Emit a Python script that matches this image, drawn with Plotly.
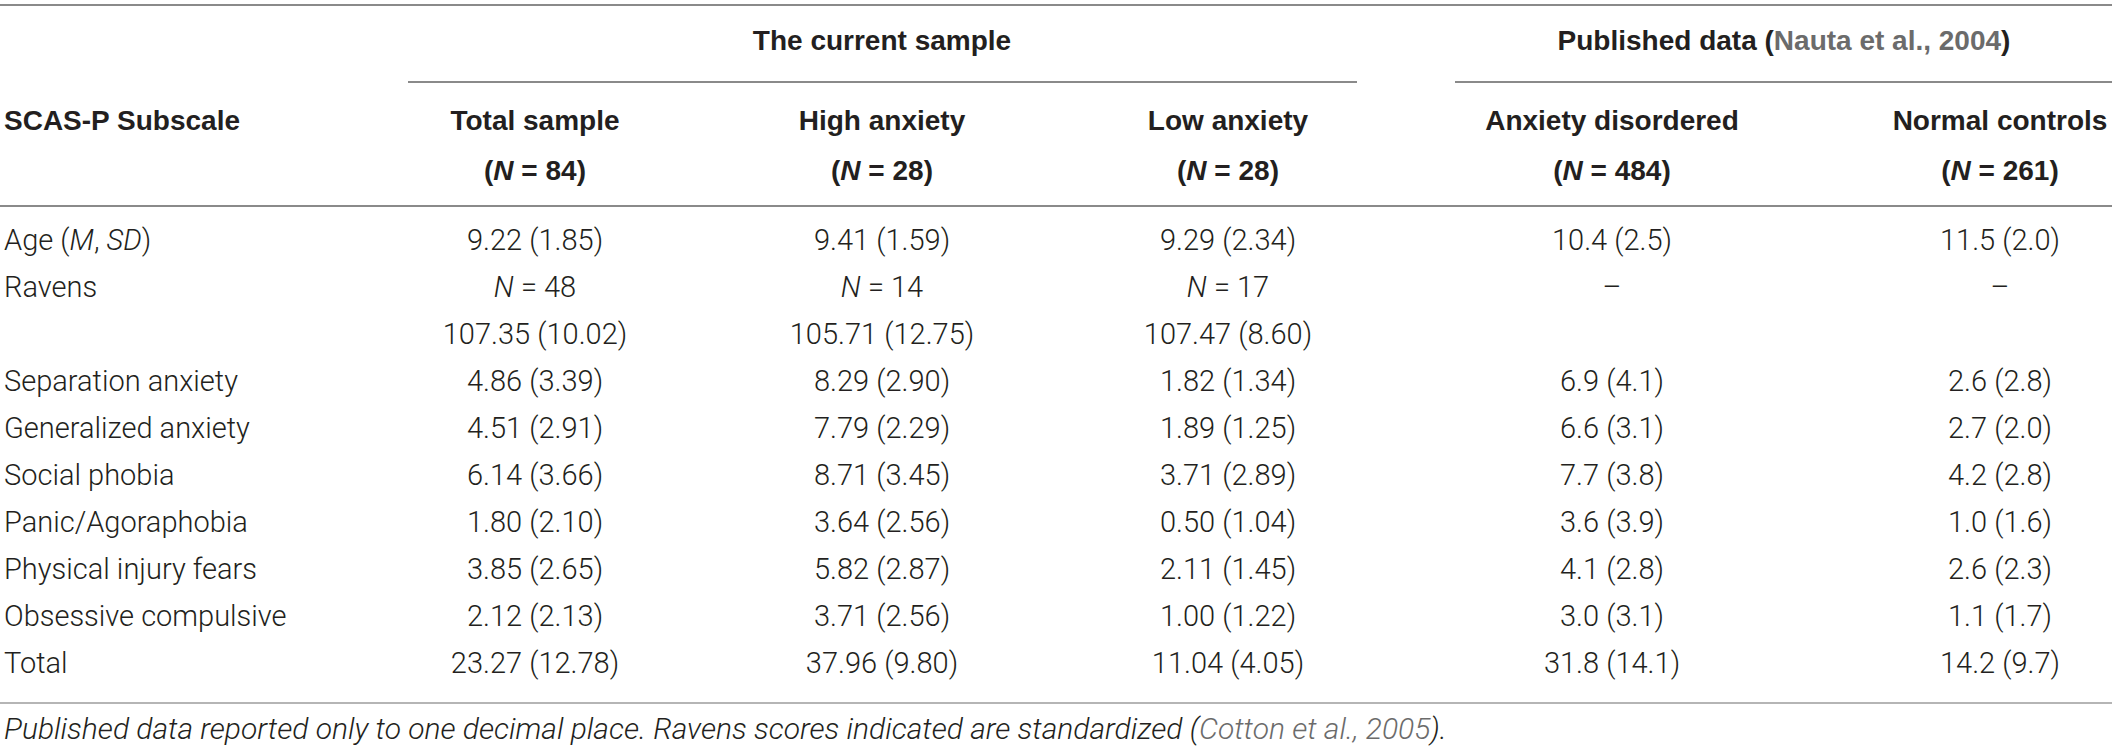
import plotly.graph_objects as go

# ---- table content ----------------------------------------------------------
subscales = [
    "Age (<i>M</i>, <i>SD</i>)", "Ravens", "", "Separation anxiety",
    "Generalized anxiety", "Social phobia", "Panic/Agoraphobia",
    "Physical injury fears", "Obsessive compulsive", "Total",
]
groups = ["Total sample", "High anxiety", "Low anxiety",
          "Anxiety disordered", "Normal controls"]
group_n = [84, 28, 28, 484, 261]
spanners = ["The current sample",
            'Published data (<span style="color:#6b6b6b">Nauta et al., 2004</span>)']

# row 1 is the Ravens N line, filled from ravens_n below
total_m = [9.22, None, 107.35, 4.86, 4.51, 6.14, 1.80, 3.85, 2.12, 23.27]
total_sd = [1.85, None, 10.02, 3.39, 2.91, 3.66, 2.10, 2.65, 2.13, 12.78]
high_m = [9.41, None, 105.71, 8.29, 7.79, 8.71, 3.64, 5.82, 3.71, 37.96]
high_sd = [1.59, None, 12.75, 2.90, 2.29, 3.45, 2.56, 2.87, 2.56, 9.80]
low_m = [9.29, None, 107.47, 1.82, 1.89, 3.71, 0.50, 2.11, 1.00, 11.04]
low_sd = [2.34, None, 8.60, 1.34, 1.25, 2.89, 1.04, 1.45, 1.22, 4.05]
disordered_m = [10.4, None, None, 6.9, 6.6, 7.7, 3.6, 4.1, 3.0, 31.8]
disordered_sd = [2.5, None, None, 4.1, 3.1, 3.8, 3.9, 2.8, 3.1, 14.1]
controls_m = [11.5, None, None, 2.6, 2.7, 4.2, 1.0, 2.6, 1.1, 14.2]
controls_sd = [2.0, None, None, 2.8, 2.0, 2.8, 1.6, 2.3, 1.7, 9.7]
ravens_n = [48, 14, 17, None, None]
decimals = [2, 2, 2, 1, 1]

footnote = ("<i>Published data reported only to one decimal place. Ravens scores "
            "indicated are standardized (<span style=\"color:#6b6b6b\">Cotton et al., "
            "2005</span>).</i>")

# ---- layout (page pixels) -------------------------------------------------------
W, H = 2118, 751
LEFT = 4
COL_X = [535, 882, 1228, 1612, 2000]
SPAN_X = [882, 1784]
Y_SPAN, Y_NAME, Y_N = 43, 123, 173
ROW_Y = [243 + 47 * i for i in range(len(subscales))]
Y_FOOT = 731

BODY = "Roboto"
HEAD = "Liberation Sans"
INK = "#231f20"
RULE = "#8a8a8a"

means = [total_m, high_m, low_m, disordered_m, controls_m]
sds = [total_sd, high_sd, low_sd, disordered_sd, controls_sd]


def cell(m, s, dec):
    return "" if m is None else f"{m:.{dec}f} ({s:.{dec}f})"


fig = go.Figure()

body_font = dict(family=BODY, size=29, color=INK, weight=300)
foot_font = dict(family=BODY, size=30, color=INK, weight=300)
head_font = dict(family=HEAD, size=28, color=INK, weight="bold")

# subscale labels
fig.add_trace(go.Scatter(x=[LEFT] * len(subscales), y=ROW_Y, text=subscales,
                         mode="text", textposition="middle right",
                         textfont=body_font))

# value columns
for g in range(len(groups)):
    texts = [cell(m, s, decimals[g]) for m, s in zip(means[g], sds[g])]
    texts[1] = f"<i>N</i> = {ravens_n[g]}" if ravens_n[g] else "–"
    fig.add_trace(go.Scatter(x=[COL_X[g]] * len(texts), y=ROW_Y, text=texts,
                             mode="text", textposition="middle center",
                             textfont=body_font))

# headers
fig.add_trace(go.Scatter(x=SPAN_X, y=[Y_SPAN] * 2, text=spanners, mode="text",
                         textposition="middle center", textfont=head_font))
fig.add_trace(go.Scatter(x=[LEFT], y=[Y_NAME], text=["SCAS-P Subscale"], mode="text",
                         textposition="middle right", textfont=head_font))
fig.add_trace(go.Scatter(x=COL_X, y=[Y_NAME] * len(groups), text=groups, mode="text",
                         textposition="middle center", textfont=head_font))
fig.add_trace(go.Scatter(x=COL_X, y=[Y_N] * len(groups),
                         text=[f"(<i>N</i> = {n})" for n in group_n], mode="text",
                         textposition="middle center", textfont=head_font))

# footnote
fig.add_trace(go.Scatter(x=[LEFT], y=[Y_FOOT], text=[footnote], mode="text",
                         textposition="middle right", textfont=foot_font))

# table rules
rules = [
    (0, 2112, 5, RULE),
    (408, 1357, 82, RULE),
    (1455, 2112, 82, RULE),
    (0, 2112, 206, RULE),
    (0, 2112, 703, "#b5b5b5"),
]
for x0, x1, y, c in rules:
    fig.add_shape(type="line", xref="x", yref="y", x0=x0, x1=x1, y0=y, y1=y,
                  line=dict(color=c, width=2))

fig.update_layout(
    width=W, height=H,
    margin=dict(l=0, r=0, t=0, b=0),
    paper_bgcolor="white", plot_bgcolor="white",
    showlegend=False, hovermode=False,
    xaxis=dict(range=[0, W], visible=False, fixedrange=True),
    yaxis=dict(range=[H, 0], visible=False, fixedrange=True),
)

fig.write_html("out.html", config={"displayModeBar": False},
               post_script="document.body.style.margin='0';")
